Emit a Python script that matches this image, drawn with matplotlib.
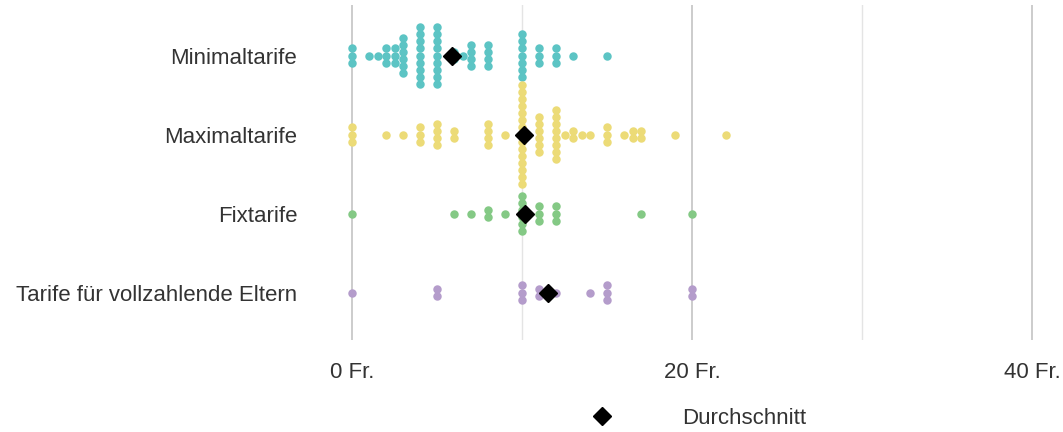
import matplotlib
matplotlib.use("Agg")
import matplotlib.pyplot as plt
from matplotlib.lines import Line2D
import numpy as np

plt.rcParams['font.family'] = ['Liberation Sans', 'DejaVu Sans']

kategorien = ["Minimaltarife", "Maximaltarife", "Fixtarife", "Tarife für vollzahlende Eltern"]
farben = ["#5cc4c4", "#ecdb77", "#84c985", "#b49ccb"]

# Tarife in Fr. und wie oft jeder Wert vorkommt
minimal_werte = [0, 1, 1.5, 2, 2.5, 3, 4, 5, 6, 6.5, 7, 8, 10, 11, 12, 13, 15]
minimal_anzahl = [3, 1, 1, 3, 3, 6, 9, 9, 2, 1, 4, 4, 7, 3, 3, 1, 1]

maximal_werte = [0, 2, 3, 4, 5, 6, 8, 9, 10, 11, 12, 12.5, 13, 13.5, 14, 15, 16, 16.5, 17, 19, 22]
maximal_anzahl = [3, 1, 1, 3, 4, 2, 4, 1, 15, 6, 8, 1, 2, 1, 1, 3, 1, 2, 2, 1, 1]

fix_werte = [0, 6, 7, 8, 9, 10, 11, 12, 17, 20]
fix_anzahl = [1, 1, 1, 2, 1, 6, 3, 3, 1, 1]

voll_werte = [0, 5, 10, 11, 12, 14, 15, 20]
voll_anzahl = [1, 2, 3, 2, 1, 1, 3, 2]

x_ticks = [0, 20, 40]
x_labels = ["0 Fr.", "20 Fr.", "40 Fr."]

daten = [(minimal_werte, minimal_anzahl), (maximal_werte, maximal_anzahl),
         (fix_werte, fix_anzahl), (voll_werte, voll_anzahl)]

fig = plt.figure(figsize=(10.63, 4.32), dpi=100)
ax = fig.add_axes([318 / 1063, 1 - 340 / 432, (1057 - 318) / 1063, 335 / 432])

dy = 0.09  # vertikaler Abstand der gestapelten Punkte
for i, ((werte, anzahl), farbe) in enumerate(zip(daten, farben)):
    pos = len(kategorien) - 1 - i
    xs, ys = [], []
    for w, n in zip(werte, anzahl):
        off = (np.arange(n) - (n - 1) / 2) * dy
        xs += [w] * n
        ys += list(pos + off)
    ax.scatter(xs, ys, s=37, color=farbe, linewidths=0, zorder=3)
    mittel = np.repeat(werte, anzahl).mean()
    ax.plot([mittel], [pos], marker='D', color='black', markersize=9,
            linestyle='None', zorder=4)

ax.set_xlim(-2, 41.47)
ax.set_ylim(-0.6, 3.64)
ax.set_yticks(range(len(kategorien)))
ax.set_yticklabels(kategorien[::-1])
ax.set_xticks(x_ticks)
ax.set_xticklabels(x_labels)
ax.set_xticks([10, 30], minor=True)

ax.grid(axis='x', which='major', color='#c8c8c8', linewidth=1.3, zorder=0)
ax.grid(axis='x', which='minor', color='#e4e4e4', linewidth=1.0, zorder=0)
ax.grid(axis='y', visible=False)
for s in ax.spines.values():
    s.set_visible(False)
ax.tick_params(axis='both', which='both', length=0, labelsize=16, colors='#333333')
ax.tick_params(axis='y', pad=15)
ax.tick_params(axis='x', pad=16)

handle = Line2D([], [], marker='D', color='black', linestyle='None', markersize=9)
fig.legend(handles=[handle], labels=["Durchschnitt"], loc='center left',
           bbox_to_anchor=(580 / 1063, 1 - 418 / 432), frameon=False,
           fontsize=16, handletextpad=2.6, borderpad=0, borderaxespad=0,
           labelcolor='#333333')

fig.savefig("out.png", dpi=100)
